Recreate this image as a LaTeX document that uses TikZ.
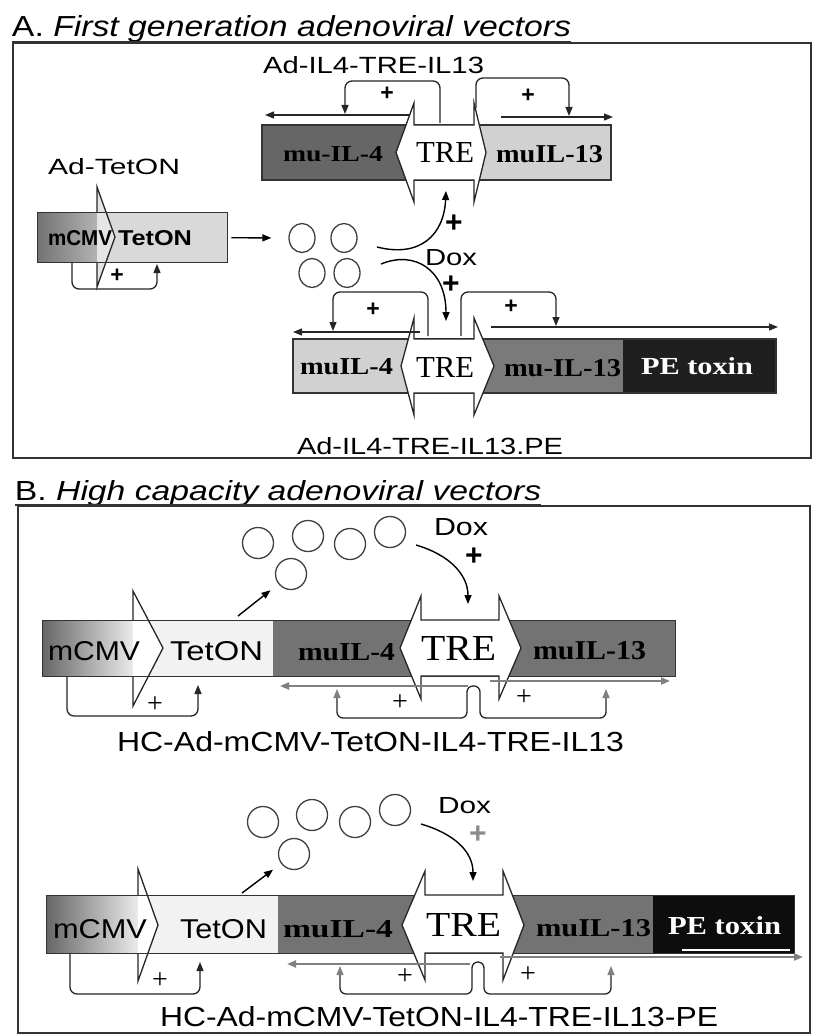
\documentclass[tikz,border=0pt]{standalone}
\usepackage{fontspec}
\setmainfont{Liberation Serif}
\setsansfont{Liberation Sans}
\usetikzlibrary{arrows.meta,shapes.geometric}
\newcommand{\fitbox}[3]{\resizebox{#1pt}{#2pt}{#3}}
\begin{document}
\begin{tikzpicture}[x=1pt,y=-1pt,
  lbl/.style={anchor=base west,inner sep=0pt,outer sep=0pt},
  frame/.style={draw=black!80,line width=1.6pt},
  uline/.style={draw=black!80,line width=1.4pt},
  gbox/.style={draw=black!80,line width=1.4pt},
  trearr/.style={draw=black!85,fill=white,line width=1.3pt,line join=miter},
  promhead/.style={draw=black!85,fill=white,line width=1.3pt,line join=miter},
  fb/.style={draw=black!85,line width=1.3pt,rounded corners=7pt},
  blk/.style={arrows={-Triangle[width=7pt,length=9pt]}},
  gry/.style={arrows={-Triangle[width=7pt,length=9pt,color=black!50]}},
  gry2/.style={arrows={Triangle[width=7pt,length=9pt,color=black!50]-Triangle[width=7pt,length=9pt,color=black!50]}},
  gline/.style={draw=black!50,line width=2pt},
  curv/.style={draw=black,line width=1.4pt},
  circA/.style={ellipse,draw=black!75,line width=1.3pt,minimum width=26pt,minimum height=29pt,inner sep=0pt},
  circB/.style={circle,draw=black!75,line width=1.3pt,minimum size=31pt,inner sep=0pt},
  plusA/.style={inner sep=0pt,font=\sffamily\bfseries\fontsize{23}{23}\selectfont},
  plusT/.style={inner sep=0pt,font=\rmfamily\fontsize{28}{28}\selectfont},
  plusD/.style={inner sep=0pt,font=\sffamily\bfseries\fontsize{30}{30}\selectfont},
]
\useasboundingbox[fill=white] (0,0) rectangle (813,1035);

% ===================== Panel A =====================
\node[lbl] (titA) at (12,37) {\fitbox{559}{21}{\sffamily A.\ \itshape First generation adenoviral vectors}};
\draw[uline] (12,42) -- (571,42);
\draw[frame] (13,43) rectangle (811,458);

\node[lbl] (lblA1) at (263,74) {\fitbox{221}{17}{\sffamily Ad-IL4-TRE-IL13}};

% top construct
\fill[black!60] (262,125) rectangle (414,180);
\fill[black!18] (474,125) rectangle (611,180);
\draw[gbox] (262,125) rectangle (611,180);
\node[lbl] (a1il4) at (283,162) {\fitbox{100}{15}{\rmfamily\bfseries mu-IL-4}};
\draw[trearr] (396,152.5) -- (414,103) -- (414,125) -- (474,125) -- (474,103) -- (486,152.5) -- (474,202) -- (474,180) -- (414,180) -- (414,202) -- cycle;
\node[lbl] (a1tre) at (416,163) {\fitbox{58}{20}{\rmfamily TRE}};
\node[lbl] (a1il13) at (496,162) {\fitbox{107}{17}{\rmfamily\bfseries muIL-13}};
\draw[black!85,line width=1.3pt,blk] (410,115) -- (265,115);
\draw[black!85,line width=1.3pt,blk] (501,117) -- (613,117);
\draw[fb,blk] (440,123) -- (440,81) -- (345,81) -- (345,114);
\draw[fb,blk] (476,108) -- (476,78) -- (569,78) -- (569,116);
\node[plusA] (pA1) at (387,94) {+};
\node[plusA] (pA2) at (528,96) {+};

% Ad-TetON
\node[lbl] (lblTet) at (48,175) {\fitbox{132}{16}{\sffamily Ad-TetON}};
\shade[left color=black!55,right color=black!30] (37,212) rectangle (97,262);
\fill[black!15] (97,212) rectangle (227,262);
\draw[promhead,fill=black!10] (97,212) -- (97,187) -- (115,237) -- (97,287) -- (97,262);
\node[draw=black!80,line width=1.4pt,minimum width=190pt,minimum height=50pt,anchor=north west,inner sep=0pt] (boxTet) at (37,212) {};
\node[lbl] (tMCMV) at (48,245) {\fitbox{64}{15}{\sffamily\bfseries mCMV}};
\node[lbl] (tTetA) at (118,245) {\fitbox{74}{15}{\sffamily\bfseries TetON}};
\draw[fb,blk] (72,262) -- (72,289) -- (157,289) -- (157,264);
\node[plusA] (pA0) at (117,276) {+};

% circles A
\node[circA] (cA1) at (302,238) {};
\node[circA] (cA2) at (344,238) {};
\node[circA] (cA3) at (312,273) {};
\node[circA] (cA4) at (347,273) {};
\draw[black,line width=1.4pt,blk,shorten <=3pt,shorten >=17pt] (boxTet.east) -- (cA1.west);

% Dox curves A
\coordinate (d1s) at (377,247);
\coordinate (d1e) at (446,191);
\draw[curv,blk] (d1s) .. controls (420,258) and (444,235) .. (d1e);
\node[plusD] (pDA1) at (454,224) {+};
\node[lbl] (doxA) at (425,265) {\fitbox{52}{16}{\sffamily Dox}};
\coordinate (d2s) at (381,264);
\coordinate (d2e) at (446,321);
\draw[curv,blk] (d2s) .. controls (415,250) and (446,270) .. (d2e);
\node[plusD] (pDA2) at (451,285) {+};

% lower construct A
\fill[black!18] (293,339) rectangle (414,393);
\fill[black!52] (474,339) rectangle (623,393);
\fill[black!88] (623,339) rectangle (776,393);
\draw[gbox] (293,339) rectangle (776,393);
\node[lbl] (a2il4) at (300,374) {\fitbox{93}{16}{\rmfamily\bfseries muIL-4}};
\node[lbl] (a2il13) at (504,376) {\fitbox{117}{17}{\rmfamily\bfseries mu-IL-13}};
\node[lbl,text=white] (a2pe) at (641,374) {\fitbox{112}{17}{\rmfamily\bfseries PE toxin}};
\draw[trearr] (401,366) -- (414,318) -- (414,339) -- (474,339) -- (474,318) -- (494,366) -- (474,415) -- (474,393) -- (414,393) -- (414,415) -- cycle;
\node[lbl] (a2tre) at (416,377) {\fitbox{58}{20}{\rmfamily TRE}};
\draw[black!85,line width=1.3pt,blk] (420,332) -- (293,332);
\draw[black!85,line width=1.3pt,blk] (491,327) -- (778,327);
\draw[fb,blk] (428,336) -- (428,292) -- (333,292) -- (333,331);
\draw[fb,blk] (461,336) -- (461,292) -- (556,292) -- (556,326);
\node[plusA] (pA3) at (373,310) {+};
\node[plusA] (pA4) at (511,307) {+};
\node[lbl] (lblA2) at (297,454) {\fitbox{266}{17}{\sffamily Ad-IL4-TRE-IL13.PE}};

% ===================== Panel B =====================
\node[lbl] (titB) at (15,500) {\fitbox{526}{20}{\sffamily B.\ \itshape High capacity adenoviral vectors}};
\draw[uline] (15,505) -- (541,505);
\draw[frame] (18,506) rectangle (810,1033);

% ---- B1 ----
\shade[left color=black!60,right color=black!8] (42,620) rectangle (133,676);
\fill[black!5] (133,620) rectangle (273,676);
\fill[black!55] (273,620) rectangle (421,676);
\fill[black!55] (499,620) rectangle (675,676);
\draw[promhead] (133,620) -- (133,591) -- (163,648) -- (133,706) -- (133,676);
\node[draw=black!80,line width=1.4pt,minimum width=633pt,minimum height=56pt,anchor=north west,inner sep=0pt] (boxB1) at (42,620) {};
\node[lbl] (b1cmv) at (48,660) {\fitbox{92}{19}{\sffamily mCMV}};
\node[lbl] (b1tet) at (170,660) {\fitbox{93}{19}{\sffamily TetON}};
\node[lbl] (b1il4) at (298,660) {\fitbox{97}{17}{\rmfamily\bfseries muIL-4}};
\draw[trearr] (400,648) -- (421,596) -- (421,620) -- (499,620) -- (499,596) -- (521,648) -- (499,699) -- (499,676) -- (421,676) -- (421,699) -- cycle;
\node[lbl] (b1tre) at (421,660) {\fitbox{75}{24}{\rmfamily TRE}};
\node[lbl] (b1il13) at (533,659) {\fitbox{113}{18}{\rmfamily\bfseries muIL-13}};

\node[circB] (cB1) at (258,543) {};
\node[circB] (cB2) at (308,536) {};
\node[circB] (cB3) at (350,544) {};
\node[circB] (cB4) at (390,532) {};
\node[circB] (cB5) at (291,574) {};
\coordinate (tB1) at (238,616);
\draw[black,line width=1.4pt,blk,shorten >=10pt] (tB1) -- (cB5);

\node[lbl] (doxB1) at (434,535) {\fitbox{54}{17}{\sffamily Dox}};
\node[plusD] (pDB1) at (474,557) {+};
\coordinate (dB1s) at (416,545);
\coordinate (dB1e) at (468,604);
\draw[curv,blk] (dB1s) .. controls (450,555) and (468,575) .. (dB1e);

\draw[gline,gry] (468,686) -- (280,686);
\draw[gline,gry] (490,681) -- (670,681);
\draw[fb,blk] (67,677) -- (67,716) -- (198,716) -- (198,685);
\node[plusT] (pB1a) at (155,705) {+};
\draw[fb,rounded corners=6pt,gry2] (337,689) -- (337,718) -- (467,718) -- (467,686) -- (480,686) -- (480,718) -- (606,718) -- (606,689);
\node[plusT] (pB1b) at (400,703) {+};
\node[plusT] (pB1c) at (524,698) {+};
\node[lbl] (lblB1) at (117,751) {\fitbox{507}{20}{\sffamily HC-Ad-mCMV-TetON-IL4-TRE-IL13}};

% ---- B2 ----
\shade[left color=black!60,right color=black!8] (46,895) rectangle (138,953);
\fill[black!5] (138,895) rectangle (278,953);
\fill[black!55] (278,895) rectangle (425,953);
\fill[black!55] (503,895) rectangle (653,953);
\fill[black!95] (653,895) rectangle (794,953);
\draw[promhead] (138,895) -- (138,869) -- (158,925) -- (138,981) -- (138,953);
\node[draw=black!80,line width=1.4pt,minimum width=748pt,minimum height=58pt,anchor=north west,inner sep=0pt] (boxB2) at (46,895) {};
\node[lbl] (b2cmv) at (53,938) {\fitbox{94}{19}{\sffamily mCMV}};
\node[lbl] (b2tet) at (180,938) {\fitbox{87}{19}{\sffamily TetON}};
\node[lbl] (b2il4) at (283,937) {\fitbox{110}{17}{\rmfamily\bfseries muIL-4}};
\draw[trearr] (402,925) -- (425,871) -- (425,895) -- (503,895) -- (503,871) -- (524,925) -- (503,980) -- (503,953) -- (425,953) -- (425,980) -- cycle;
\node[lbl] (b2tre) at (426,936) {\fitbox{75}{23}{\rmfamily TRE}};
\node[lbl] (b2il13) at (536,936) {\fitbox{115}{17}{\rmfamily\bfseries muIL-13}};
\node[lbl,text=white] (b2pe) at (668,934) {\fitbox{113}{18}{\rmfamily\bfseries PE toxin}};

\node[circB] (cB6) at (263,822) {};
\node[circB] (cB7) at (312,815) {};
\node[circB] (cB8) at (355,822) {};
\node[circB] (cB9) at (395,810) {};
\node[circB] (cB10) at (294,854) {};
\coordinate (tB2) at (242,893);
\draw[black,line width=1.4pt,blk,shorten >=10pt] (tB2) -- (cB10);

\node[lbl] (doxB2) at (438,813) {\fitbox{53}{16}{\sffamily Dox}};
\node[plusD,text=black!45] (pDB2) at (478,835) {+};
\coordinate (dB2s) at (421,824);
\coordinate (dB2e) at (473,881);
\draw[curv,blk] (dB2s) .. controls (455,834) and (473,852) .. (dB2e);

\draw[gline,gry] (470,964) -- (287,964);
\draw[gline,gry] (500,957) -- (803,957);
\draw[white,line width=1.5pt] (682,950) -- (790,950);
\draw[fb,blk] (70,954) -- (70,994) -- (200,994) -- (200,962);
\node[plusT] (pB2a) at (160,981) {+};
\draw[fb,rounded corners=6pt,gry2] (340,966) -- (340,994) -- (472,994) -- (472,962) -- (484,962) -- (484,994) -- (611,994) -- (611,966);
\node[plusT] (pB2b) at (405,977) {+};
\node[plusT] (pB2c) at (528,975) {+};
\node[lbl] (lblB2) at (160,1026) {\fitbox{558}{20}{\sffamily HC-Ad-mCMV-TetON-IL4-TRE-IL13-PE}};
\end{tikzpicture}
\end{document}
